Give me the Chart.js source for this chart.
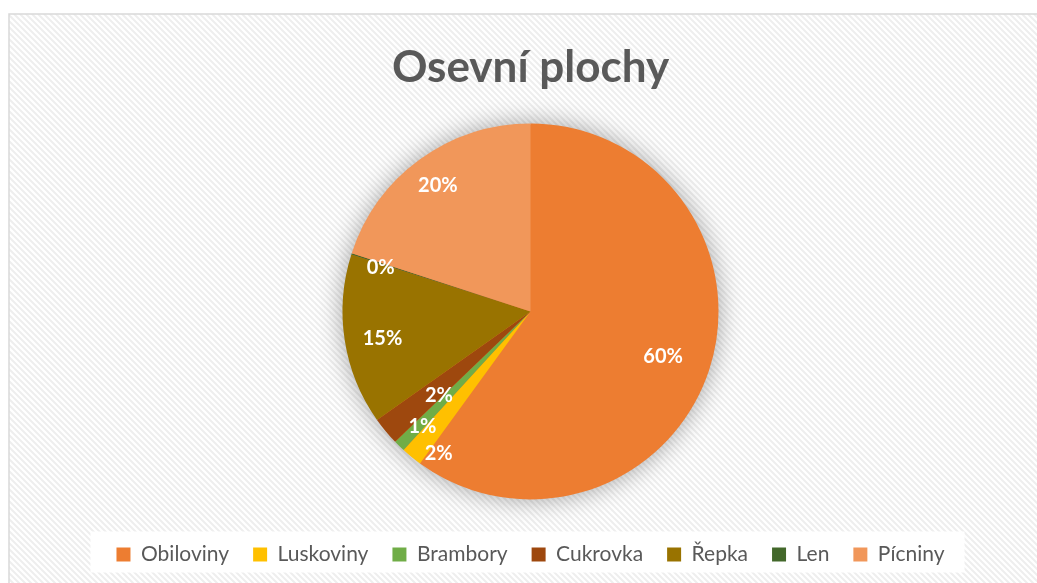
<!DOCTYPE html>
<html>
<head>
<meta charset="utf-8">
<script src="https://cdn.jsdelivr.net/npm/chart.js@4/dist/chart.umd.min.js"></script>
<style>
  html, body { margin: 0; padding: 0; background: #ffffff; }
  canvas { display: block; }
</style>
</head>
<body>
<canvas id="c" width="1037" height="583"></canvas>
<script>
// ---- data ----
const categories = ['Obiloviny', 'Luskoviny', 'Brambory', 'Cukrovka', 'Řepka', 'Len', 'Pícniny'];
const shares = [60.0, 1.8, 1.0, 2.4, 14.7, 0.1, 20.0];
const sliceColors = ['#ED7D31', '#FFC000', '#70AD47', '#9E480E', '#997300', '#43682B', '#F1975A'];
const chartTitle = 'Osevní plochy';

// label placement (fraction of radius, angle offset in degrees) – styling only
const labelRadius = [0.745, 0.90, 0.84, 0.66, 0.80, 0.83, 0.83];
const labelAngleOffset = [0.7, -6.4, -1.1, -2.8, -1.5, -1.5, -0.4];

const FONT = 'Lato, "Open Sans", sans-serif';

// hatch pattern
function makeHatch() {
  const p = document.createElement('canvas');
  p.width = 6; p.height = 6;
  const pc = p.getContext('2d');
  pc.fillStyle = '#ffffff';
  pc.fillRect(0, 0, 6, 6);
  pc.strokeStyle = '#eeeeee';
  pc.lineWidth = 2;
  pc.beginPath();
  pc.moveTo(-1, -1); pc.lineTo(7, 7);
  pc.moveTo(-1, 5); pc.lineTo(1, 7);
  pc.moveTo(5, -1); pc.lineTo(7, 1);
  pc.stroke();
  return p;
}
const hatchCanvas = makeHatch();

const backgroundPlugin = {
  id: 'bg',
  beforeDraw(chart) {
    const ctx = chart.ctx;
    ctx.save();
    ctx.fillStyle = '#ffffff';
    ctx.fillRect(0, 0, chart.width, chart.height);
    ctx.fillStyle = ctx.createPattern(hatchCanvas, 'repeat');
    ctx.fillRect(9, 14, chart.width, chart.height);
    ctx.strokeStyle = '#d9d9d9';
    ctx.lineWidth = 1.5;
    ctx.strokeRect(9, 14, chart.width + 20, chart.height + 20);
    // white legend box
    const hb = chart.legend && chart.legend.legendHitBoxes;
    if (hb && hb.length) {
      let l = Infinity, r = -Infinity, t = Infinity, b = -Infinity;
      hb.forEach(h => {
        l = Math.min(l, h.left); r = Math.max(r, h.left + h.width);
        t = Math.min(t, h.top); b = Math.max(b, h.top + h.height);
      });
      const cy = (t + b) / 2;
      ctx.fillStyle = '#ffffff';
      ctx.fillRect(l - 26, cy - 23, (r - l) + 46, 41);
    }
    ctx.restore();
  }
};

const shadowPlugin = {
  id: 'pieShadow',
  beforeDatasetsDraw(chart) {
    const arc = chart.getDatasetMeta(0).data[0];
    if (!arc) return;
    const ctx = chart.ctx;
    ctx.save();
    ctx.shadowColor = 'rgba(0,0,0,0.38)';
    ctx.shadowBlur = 26;
    ctx.fillStyle = '#ED7D31';
    ctx.beginPath();
    ctx.arc(arc.x, arc.y, arc.outerRadius - 1, 0, Math.PI * 2);
    ctx.fill();
    ctx.restore();
  }
};

const labelPlugin = {
  id: 'sliceLabels',
  afterDatasetsDraw(chart) {
    const ctx = chart.ctx;
    const meta = chart.getDatasetMeta(0);
    const data = chart.data.datasets[0].data;
    ctx.save();
    ctx.fillStyle = '#ffffff';
    ctx.font = 'bold 20px ' + FONT;
    ctx.textAlign = 'center';
    ctx.textBaseline = 'middle';
    meta.data.forEach((arc, i) => {
      const mid = (arc.startAngle + arc.endAngle) / 2 + labelAngleOffset[i] * Math.PI / 180;
      const r = arc.outerRadius * labelRadius[i];
      const x = arc.x + Math.cos(mid) * r;
      const y = arc.y + Math.sin(mid) * r;
      ctx.fillText(Math.round(data[i]) + '%', x, y);
    });
    ctx.restore();
  }
};

new Chart(document.getElementById('c'), {
  type: 'pie',
  data: {
    labels: categories,
    datasets: [{
      data: shares,
      backgroundColor: sliceColors,
      borderWidth: 0,
      radius: 188
    }]
  },
  options: {
    responsive: false,
    animation: false,
    layout: { padding: { left: 24, right: 0, top: 0, bottom: 8 } },
    plugins: {
      title: {
        display: true,
        text: chartTitle,
        color: '#595959',
        font: { family: FONT, size: 44, weight: 'bold' },
        padding: { top: 41, bottom: 9 }
      },
      legend: {
        position: 'bottom',
        labels: {
          color: '#595959',
          font: { family: FONT, size: 21 },
          boxWidth: 14,
          boxHeight: 14,
          padding: 24
        }
      },
      tooltip: { enabled: false }
    }
  },
  plugins: [backgroundPlugin, shadowPlugin, labelPlugin]
});
</script>
</body>
</html>
